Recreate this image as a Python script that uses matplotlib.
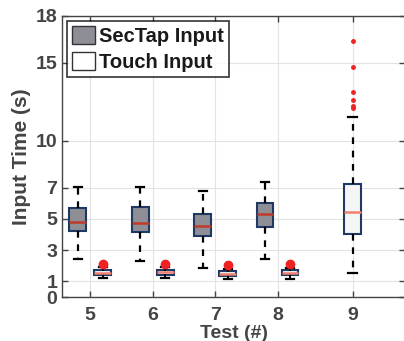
import matplotlib
matplotlib.use("Agg")
import matplotlib.pyplot as plt
from matplotlib.patches import Patch

plt.rcParams['font.family'] = ['Liberation Sans', 'DejaVu Sans']
plt.rcParams['font.weight'] = 'bold'

tests = ["5", "6", "7", "8", "9"]
tick_pos = [1, 2, 3, 4, 5.2]

# SecTap input (tests 5-8), Touch input (tests 5-8), test 9 alone
sectap_whislo = [2.42, 2.33, 1.88, 2.44]
sectap_q1 = [4.23, 4.17, 3.89, 4.47]
sectap_med = [4.81, 4.76, 4.57, 5.30]
sectap_q3 = [5.68, 5.79, 5.34, 6.00]
sectap_whishi = [7.03, 7.03, 6.81, 7.39]

touch_whislo = [1.20, 1.20, 1.13, 1.15]
touch_q1 = [1.39, 1.43, 1.35, 1.39]
touch_med = [1.56, 1.60, 1.50, 1.55]
touch_q3 = [1.71, 1.75, 1.67, 1.71]
touch_whishi = [1.90, 1.90, 1.80, 1.85]
touch_fliers = [[2.10], [2.10], [2.05], [2.10]]

t9_stats = dict(whislo=1.54, q1=4.04, med=5.45, q3=7.24, whishi=11.5,
                fliers=[16.43, 14.74, 13.16, 12.65, 12.24, 12.1])


def stats(lo, q1, med, q3, hi, fl=None):
    out = []
    for i in range(len(lo)):
        out.append(dict(whislo=lo[i], q1=q1[i], med=med[i], q3=q3[i],
                        whishi=hi[i], fliers=fl[i] if fl else []))
    return out


fig = plt.figure(figsize=(4.04, 3.41), dpi=100)
ax = fig.add_axes([62 / 404, 1 - 297 / 341, 343 / 404, 281 / 341])

edge = "#1f3864"
whisk = dict(color="black", linestyle=(0, (3, 3)), linewidth=1.6)
capp = dict(color="black", linewidth=1.6)

ax.bxp(stats(sectap_whislo, sectap_q1, sectap_med, sectap_q3, sectap_whishi),
       positions=[p - 0.2 for p in tick_pos[:4]], widths=0.27, patch_artist=True,
       boxprops=dict(facecolor="#8e8f96", edgecolor=edge, linewidth=1.5),
       medianprops=dict(color="#c0392b", linewidth=1.8),
       whiskerprops=whisk, capprops=capp, capwidths=0.13)

ax.bxp(stats(touch_whislo, touch_q1, touch_med, touch_q3, touch_whishi, touch_fliers),
       positions=[p + 0.2 for p in tick_pos[:4]], widths=0.27, patch_artist=True,
       boxprops=dict(facecolor="#eef2f8", edgecolor=edge, linewidth=1.5),
       medianprops=dict(color="#f08070", linewidth=1.8),
       whiskerprops=dict(color="black", linewidth=1.4), capprops=capp, capwidths=0.13,
       flierprops=dict(marker="o", markerfacecolor="#ee2222", markeredgecolor="#ee2222",
                       markersize=6))

ax.bxp([t9_stats], positions=[tick_pos[4]], widths=0.27, patch_artist=True,
       boxprops=dict(facecolor="#f5f5f5", edgecolor=edge, linewidth=1.5),
       medianprops=dict(color="#f08070", linewidth=1.8),
       whiskerprops=whisk, capprops=capp, capwidths=0.13,
       flierprops=dict(marker="o", markerfacecolor="#ee2222", markeredgecolor="#ee2222",
                       markersize=2.5))

ax.set_xlim(0.55, 6.04)
ax.set_ylim(0, 18)
ax.set_xticks(tick_pos)
ax.set_xticklabels(tests)
ax.set_yticks([0, 1, 3, 5, 7, 10, 15, 18])
ax.tick_params(direction="in", top=True, right=True, labelsize=14, width=1, length=4,
               colors="#444444", labelcolor="#444444")
ax.tick_params(axis="x", pad=7)
ax.grid(True, color="#e3e3e3", linewidth=0.8)
ax.set_axisbelow(True)
for s in ax.spines.values():
    s.set_color("#444444")
    s.set_linewidth(1.0)

ax.set_ylabel("Input Time (s)", fontsize=15, fontweight="bold", color="#444444", labelpad=3)
ax.set_xlabel("Test (#)", fontsize=14, fontweight="bold", color="#444444")
ax.xaxis.set_label_coords(0.5, -0.1)

handles = [Patch(facecolor="#8e8f96", edgecolor="#333333"),
           Patch(facecolor="white", edgecolor="#333333")]
leg = ax.legend(handles, ["SecTap Input", "Touch Input"], loc="upper left",
                frameon=True, fancybox=False, edgecolor="black",
                borderaxespad=0.25, handlelength=1.15, handleheight=1.0,
                handletextpad=0.2, labelspacing=0.3, borderpad=0.25,
                prop=dict(weight="bold", size=14.5))
leg.get_frame().set_linewidth(1.2)
for t in leg.get_texts():
    t.set_color("#1a1a1a")

fig.savefig("out.png", dpi=100)
